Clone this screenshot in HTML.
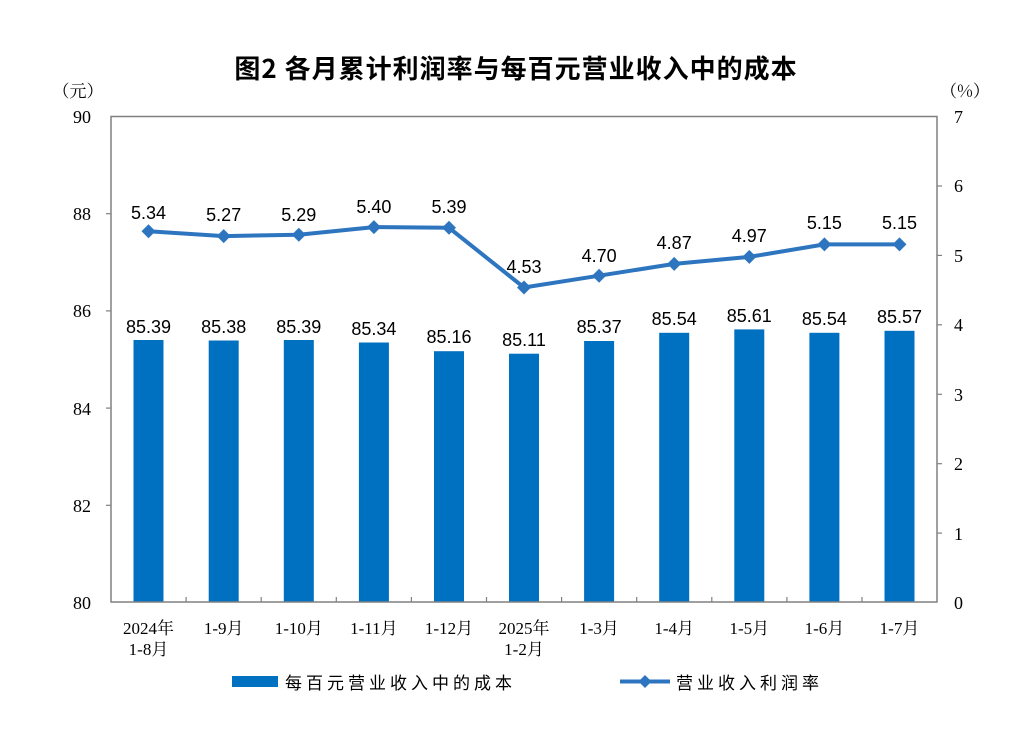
<!DOCTYPE html><html><head><meta charset="utf-8"><style>body{margin:0;background:#fff}svg{display:block}</style></head><body>
<svg width="1033" height="743" xmlns="http://www.w3.org/2000/svg" font-family="Liberation Sans, Noto Sans CJK SC, sans-serif">
<text x="516" y="78" font-size="26" text-anchor="middle" font-family="Noto Sans CJK SC, sans-serif" font-weight="bold" letter-spacing="1">图2  各月累计利润率与每百元营业收入中的成本</text>
<text x="78" y="97" font-size="17" text-anchor="middle" font-family="Noto Serif CJK SC, serif">（元）</text>
<text x="965" y="97" font-size="17" text-anchor="middle" font-family="Noto Serif CJK SC, serif">（%）</text>
<g fill="#0070c0">
<rect x="133.5" y="340" width="30" height="262"/><rect x="208.7" y="340.5" width="30" height="261.5"/><rect x="283.8" y="340" width="30" height="262"/><rect x="358.9" y="342.5" width="30" height="259.5"/><rect x="434" y="351.2" width="30" height="250.8"/><rect x="509" y="353.7" width="30" height="248.3"/><rect x="584.1" y="341" width="30" height="261"/><rect x="659.2" y="332.8" width="30" height="269.2"/><rect x="734.3" y="329.4" width="30" height="272.6"/><rect x="809.4" y="332.8" width="30" height="269.2"/><rect x="884.5" y="330.8" width="30" height="271.2"/>
</g>
<rect x="111" y="116.5" width="826" height="485.5" fill="none" stroke="#808080" stroke-width="1.5"/>
<g stroke="#808080" stroke-width="1.2">
<line x1="106" y1="213.7" x2="111" y2="213.7"/><line x1="106" y1="310.9" x2="111" y2="310.9"/><line x1="106" y1="408.1" x2="111" y2="408.1"/><line x1="106" y1="505.3" x2="111" y2="505.3"/>
<line x1="937" y1="186" x2="942" y2="186"/><line x1="937" y1="255.4" x2="942" y2="255.4"/><line x1="937" y1="324.8" x2="942" y2="324.8"/><line x1="937" y1="394.3" x2="942" y2="394.3"/><line x1="937" y1="463.7" x2="942" y2="463.7"/><line x1="937" y1="533.1" x2="942" y2="533.1"/>
<line x1="186.1" y1="597" x2="186.1" y2="602"/><line x1="261.2" y1="597" x2="261.2" y2="602"/><line x1="336.3" y1="597" x2="336.3" y2="602"/><line x1="411.4" y1="597" x2="411.4" y2="602"/><line x1="486.5" y1="597" x2="486.5" y2="602"/><line x1="561.6" y1="597" x2="561.6" y2="602"/><line x1="636.7" y1="597" x2="636.7" y2="602"/><line x1="711.8" y1="597" x2="711.8" y2="602"/><line x1="786.9" y1="597" x2="786.9" y2="602"/><line x1="862" y1="597" x2="862" y2="602"/>
</g>
<g font-size="18" font-family="Liberation Serif, serif" text-anchor="end">
<text x="91" y="123">90</text><text x="91" y="220">88</text><text x="91" y="317">86</text><text x="91" y="415">84</text><text x="91" y="512">82</text><text x="91" y="609">80</text>
</g>
<g font-size="18" font-family="Liberation Serif, serif">
<text x="954" y="123">7</text><text x="954" y="192">6</text><text x="954" y="262">5</text><text x="954" y="331">4</text><text x="954" y="401">3</text><text x="954" y="470">2</text><text x="954" y="540">1</text><text x="954" y="609">0</text>
</g>
<polyline fill="none" stroke="#2e75c0" stroke-width="4" points="148.5,231.2 223.7,236.1 298.8,234.7 373.9,227.1 449,227.8 524,287.5 599.1,275.7 674.2,263.9 749.3,256.9 824.4,244.4 899.5,244.4"/>
<g fill="#2e75c0">
<path d="M148.5,224.2l7,7-7,7-7-7z"/><path d="M223.7,229.1l7,7-7,7-7-7z"/><path d="M298.8,227.7l7,7-7,7-7-7z"/><path d="M373.9,220.1l7,7-7,7-7-7z"/><path d="M449,220.8l7,7-7,7-7-7z"/><path d="M524,280.5l7,7-7,7-7-7z"/><path d="M599.1,268.7l7,7-7,7-7-7z"/><path d="M674.2,256.9l7,7-7,7-7-7z"/><path d="M749.3,249.9l7,7-7,7-7-7z"/><path d="M824.4,237.4l7,7-7,7-7-7z"/><path d="M899.5,237.4l7,7-7,7-7-7z"/>
</g>
<g font-size="18" text-anchor="middle">
<text x="148.5" y="219">5.34</text><text x="223.7" y="221">5.27</text><text x="298.8" y="221">5.29</text><text x="373.9" y="213">5.40</text><text x="449" y="213">5.39</text><text x="524" y="273">4.53</text><text x="599.1" y="262">4.70</text><text x="674.2" y="249">4.87</text><text x="749.3" y="242">4.97</text><text x="824.4" y="229">5.15</text><text x="899.5" y="229">5.15</text>
<text x="148.5" y="333">85.39</text><text x="223.7" y="333">85.38</text><text x="298.8" y="333">85.39</text><text x="373.9" y="335">85.34</text><text x="449" y="343">85.16</text><text x="524" y="346">85.11</text><text x="599.1" y="333">85.37</text><text x="674.2" y="325">85.54</text><text x="749.3" y="322">85.61</text><text x="824.4" y="325">85.54</text><text x="899.5" y="323">85.57</text>
</g>
<g font-size="17" text-anchor="middle" font-family="Liberation Serif, Noto Serif CJK SC, serif">
<text x="148.5" y="634">2024年</text><text x="148.5" y="655">1-8月</text><text x="223.7" y="634">1-9月</text><text x="298.8" y="634">1-10月</text><text x="373.9" y="634">1-11月</text><text x="449" y="634">1-12月</text><text x="524" y="634">2025年</text><text x="524" y="655">1-2月</text><text x="599.1" y="634">1-3月</text><text x="674.2" y="634">1-4月</text><text x="749.3" y="634">1-5月</text><text x="824.4" y="634">1-6月</text><text x="899.5" y="634">1-7月</text>
</g>
<rect x="232" y="676" width="46" height="11" fill="#0070c0"/>
<text x="285" y="689" font-size="17" letter-spacing="4" font-family="Noto Sans CJK SC, sans-serif">每百元营业收入中的成本</text>
<line x1="620" y1="681.5" x2="670" y2="681.5" stroke="#2e75c0" stroke-width="4"/>
<path d="M645,675l6.5,6.5-6.5,6.5-6.5-6.5z" fill="#2e75c0"/>
<text x="676" y="689" font-size="17" letter-spacing="4" font-family="Noto Sans CJK SC, sans-serif">营业收入利润率</text>
</svg>
</body></html>
